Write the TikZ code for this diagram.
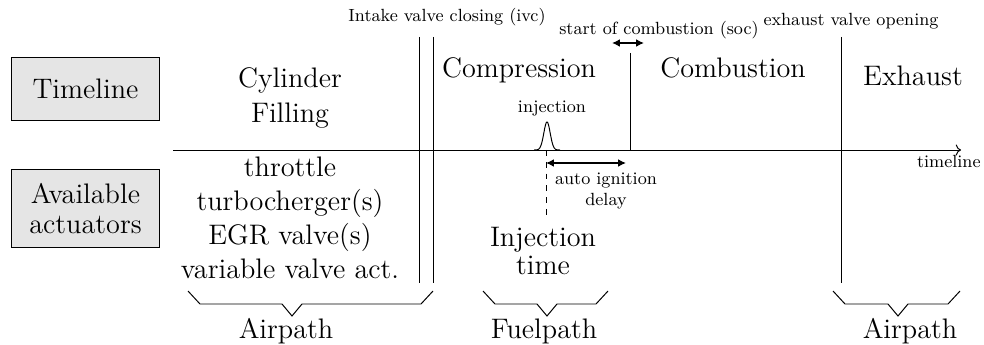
\documentclass[tikz,border=0pt]{standalone}
\usetikzlibrary{arrows.meta}
\begin{document}
\begin{tikzpicture}[x=0.51pt,y=-0.51pt,
  big/.style={font=\fontsize{14.4}{17.5}\selectfont, inner sep=0pt, align=center},
  small/.style={font=\fontsize{9}{10.5}\selectfont, inner sep=0pt, align=center},
  graybox/.style={draw, fill=black!10, line width=0.5pt, minimum width=75pt, inner sep=0pt, align=center},
  eventline/.style={line width=0.5pt},
  span/.style={{Latex[length=4pt,width=4pt]}-{Latex[length=4pt,width=4pt]}, line width=0.8pt},
  bracket/.style={line width=0.5pt}
]
\useasboundingbox (0,0) rectangle (984,345);

% left boxes
\node[graybox, minimum height=32.6pt, font=\fontsize{14.4}{17.5}\selectfont] (tl) at (85.5,89) {Timeline};
\node[graybox, minimum height=39.3pt, font=\fontsize{14.4}{15.3}\selectfont] (aa) at (85.5,208.5) {Available\\actuators};

% timeline axis
\coordinate (ax0) at (173,150);
\coordinate (ax1) at (961,150);
\draw[eventline,->] (ax0) -- (ax1);
\node[small, anchor=base east] (tlab) at (981,168) {timeline};

% event lines
\coordinate (ivcA0) at (419,37); \coordinate (ivcA1) at (419,283);
\coordinate (ivcB0) at (433,37); \coordinate (ivcB1) at (433,283);
\draw[eventline] (ivcA0) -- (ivcA1);
\draw[eventline] (ivcB0) -- (ivcB1);
\coordinate (soc0) at (630,53); \coordinate (soc1) at (630,150);
\draw[eventline] (soc0) -- (soc1);
\coordinate (evo0) at (841,37); \coordinate (evo1) at (841,283);
\draw[eventline] (evo0) -- (evo1);

\node[small, anchor=base] (ivc) at (447,22) {Intake valve closing (ivc)};
\node[small, anchor=base] (soct) at (659,35) {start of combustion (soc)};
\node[small, anchor=base] (evot) at (851,26) {exhaust valve opening};

% soc uncertainty arrow
\coordinate (sa0) at (612,43); \coordinate (sa1) at (644,43);
\draw[span] (sa0) -- (sa1);

% injection pulse
\draw[eventline] plot[domain=-13:13, samples=60] ({547+\x},{150-28*exp(-(\x/4.5)^2)});
\node[small, anchor=base] (inj) at (552,113) {injection};
\coordinate (d0) at (546,150); \coordinate (d1) at (546,217);
\draw[eventline, dashed] (d0) -- (d1);
\coordinate (ai1) at (626,163);
\coordinate (ai0) at (546,163);
\draw[span] (ai0) -- (ai1);
\node[small, anchor=base] (aid) at (606,205) {auto ignition\\delay};

% phase labels
\node[big, anchor=base] (cyl) at (290,122) {Cylinder\\Filling};
\node[big, anchor=base] (comp) at (519,78) {Compression};
\node[big, anchor=base] (comb) at (733,78) {Combustion};
\node[big, anchor=base] (exh) at (913,86) {Exhaust};

% actuators
\node[big, anchor=base, font=\fontsize{14.4}{17.3}\selectfont] (act) at (290,278) {throttle\\turbocherger(s)\\EGR valve(s)\\variable valve act.};
\node[big, anchor=base, font=\fontsize{14.4}{13.8}\selectfont] (injt) at (543,274) {Injection\\time};

% brackets
\draw[bracket] (188,291) -- (200,304) -- (282,304) -- (292,316) -- (302,304) -- (421,304) -- (433,291);
\draw[bracket] (483,291) -- (495,304) -- (537,304) -- (547,316) -- (557,304) -- (596,304) -- (608,291);
\draw[bracket] (833,291) -- (845,304) -- (888,304) -- (898,316) -- (908,304) -- (948,304) -- (960,291);

\node[big, anchor=base] (ap1) at (286,338) {Airpath};
\node[big, anchor=base] (fp) at (544,338) {Fuelpath};
\node[big, anchor=base] (ap2) at (910,338) {Airpath};
\end{tikzpicture}
\end{document}
